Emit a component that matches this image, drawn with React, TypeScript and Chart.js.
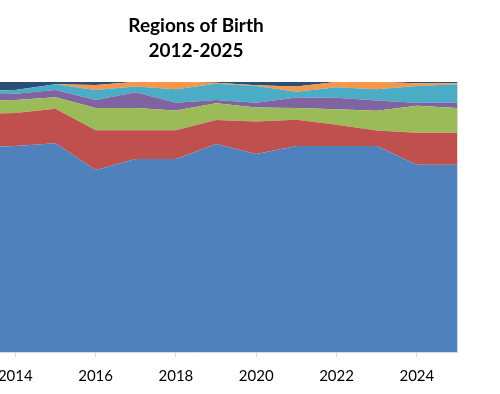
import React, { useEffect, useRef } from "react";
import { Chart, registerables } from "chart.js";

Chart.register(...registerables);

const years = [2012, 2013, 2014, 2015, 2016, 2017, 2018, 2019, 2020, 2021, 2022, 2023, 2024, 2025];
const seriesNames = ["Region 1", "Region 2", "Region 3", "Region 4", "Region 5", "Region 6", "Region 7"];
const region1 = [75.5, 75.8, 76.3, 77.3, 67.4, 71.5, 71.5, 77.0, 73.3, 76.3, 76.3, 76.3, 69.3, 69.3];
const region2 = [12.5, 12.3, 12.2, 12.8, 14.7, 10.6, 10.6, 8.9, 12.0, 9.7, 7.8, 5.7, 11.9, 11.9];
const region3 = [5.0, 4.9, 4.8, 4.2, 8.2, 8.2, 7.3, 6.2, 5.2, 4.3, 5.8, 7.3, 10.0, 9.1];
const region4 = [2.2, 2.3, 2.3, 2.7, 3.0, 5.9, 2.9, 1.2, 1.8, 3.9, 4.2, 3.8, 1.1, 2.0];
const region5 = [1.5, 1.4, 1.4, 2.1, 3.7, 2.1, 5.0, 6.0, 6.2, 2.2, 3.9, 4.2, 6.2, 6.8];
const region6 = [0.3, 0.2, 0.0, 0.0, 1.9, 1.7, 2.7, 0.4, 0.3, 1.9, 2.0, 2.7, 1.0, 0.4];
const region7 = [3.0, 3.1, 3.0, 0.9, 1.1, 0.0, 0.0, 0.3, 1.2, 1.7, 0.0, 0.0, 0.5, 0.5];
const colors = ["#4F81BD", "#C0504D", "#9BBB59", "#8064A2", "#4BACC6", "#F79646", "#2C4D75"];
const titleLines = ["Regions of Birth", "2012-2025"];

const allSeries = [region1, region2, region3, region4, region5, region6, region7];

const plotBorder = {
  id: "plotBorder",
  afterDatasetsDraw(chart: any) {
    const { ctx, chartArea } = chart;
    ctx.save();
    ctx.strokeStyle = "#d9d9d9";
    ctx.lineWidth = 1;
    ctx.beginPath();
    ctx.moveTo(Math.round(chartArea.right) + 0.5, chartArea.top);
    ctx.lineTo(Math.round(chartArea.right) + 0.5, chartArea.bottom);
    ctx.stroke();
    ctx.restore();
  },
};

export default function App() {
  const ref = useRef<HTMLCanvasElement | null>(null);
  useEffect(() => {
    if (!ref.current) return;
    const chart = new Chart(ref.current, {
      type: "line",
      data: {
        datasets: allSeries.map((vals, i) => ({
          label: seriesNames[i],
          data: vals.map((v, j) => ({ x: years[j], y: v })),
          backgroundColor: colors[i],
          borderColor: colors[i],
          borderWidth: 0,
          pointRadius: 0,
          tension: 0,
          fill: i === 0 ? "origin" : "-1",
        })),
      },
      options: {
        responsive: false,
        animation: false,
        layout: { padding: { left: 55, right: 43, top: 0, bottom: -1 } },
        plugins: {
          legend: { display: false },
          tooltip: { enabled: false },
          title: {
            display: true,
            text: titleLines,
            color: "#000",
            font: { family: "Lato", size: 19, weight: "bold", lineHeight: 1.34 },
            padding: { top: 13, bottom: 18 },
          },
        },
        scales: {
          x: {
            type: "linear",
            min: 2012,
            max: 2025,
            grid: { drawOnChartArea: false, drawTicks: true, tickLength: 5, color: "#d9d9d9" },
            border: { display: true, color: "#d9d9d9" },
            ticks: {
              stepSize: 2,
              includeBounds: false,
              padding: 10,
              color: "#000",
              font: { family: "Lato", size: 15 },
              maxRotation: 0,
              callback: (v: any) => String(v),
            },
          },
          y: {
            display: false,
            stacked: true,
            min: 0,
            max: 100,
          },
        },
      },
      plugins: [plotBorder],
    });
    return () => chart.destroy();
  }, []);
  return (
    <div style={{ position: "absolute", left: -120, top: 0, width: 620, height: 394 }}>
      <canvas ref={ref} width={620} height={394} />
    </div>
  );
}
